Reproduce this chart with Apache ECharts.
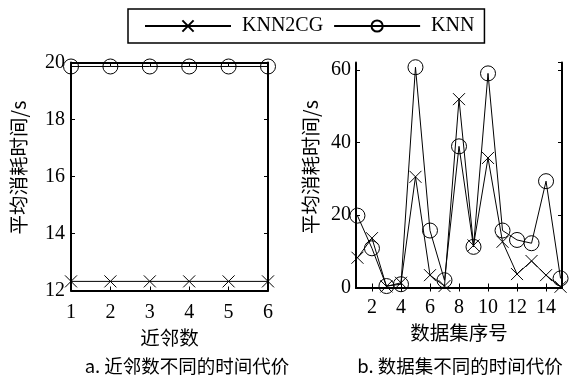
<!DOCTYPE html>
<html>
<head>
<meta charset="utf-8">
<script src="https://cdn.jsdelivr.net/npm/echarts@6/dist/echarts.min.js"></script>
<style>html,body{margin:0;padding:0;background:#fff}#c{width:574px;height:376px}</style>
</head>
<body>
<div id="c"></div>
<script>
// Left chart: neighbour count
const neighbours = [1, 2, 3, 4, 5, 6];
const leftKNN2CG = [12.32, 12.32, 12.32, 12.32, 12.32, 12.32];
const leftKNN = [19.86, 19.86, 19.86, 19.86, 19.86, 19.86];
// Right chart: dataset index
const datasets = [1, 2, 3, 4, 5, 6, 7, 8, 9, 10, 11, 12, 13, 14, 15];
const rightKNN2CG = [8.2, 13.6, 0.3, 1.3, 30.5, 3.4, 0.4, 51.9, 11.6, 35.7, 12.6, 3.7, 7.3, 3.4, 0.2];
const rightKNN = [19.8, 10.8, 0.4, 0.9, 60.7, 15.7, 2.0, 38.9, 11.2, 59.0, 15.7, 13.1, 12.2, 29.3, 2.5];
const rightXTicks = [2, 4, 6, 8, 10, 12, 14];

const serif = "'Liberation Serif', 'Times New Roman', 'Noto Sans CJK SC', serif";
const cjk = "'Noto Sans CJK SC', 'Liberation Serif', sans-serif";
const crossPath = 'path://M0,0L10,10M10,0L0,10';

const chart = echarts.init(document.getElementById('c'), null, {renderer: 'canvas'});

function axisCommon(extra) {
  return Object.assign({
    axisLine: {show: true, lineStyle: {color: '#000', width: 2}},
    axisTick: {show: true, inside: true, length: 4, lineStyle: {color: '#000', width: 1}},
    splitLine: {show: false},
    axisLabel: {color: '#000', fontFamily: serif, fontSize: 20},
  }, extra);
}

function pair(a, b) { return a.map((v, i) => [a[i], b[i]]); }

const knn2cgStyle = {
  type: 'line', symbol: crossPath, symbolSize: 12, showAllSymbol: true,
  lineStyle: {color: '#000', width: 1},
  itemStyle: {color: 'rgba(0,0,0,0)', borderColor: '#000', borderWidth: 1},
  emphasis: {disabled: true}, animation: false, z: 3
};
const knnStyle = {
  type: 'line', symbol: 'circle', symbolSize: 15, showAllSymbol: true,
  lineStyle: {color: '#000', width: 1},
  itemStyle: {color: 'rgba(0,0,0,0)', borderColor: '#000', borderWidth: 1},
  emphasis: {disabled: true}, animation: false, z: 3
};

const captionStyle = {fontFamily: cjk, fontSize: 18.5, fontWeight: 'normal', color: '#000'};
const nameStyle = {fontFamily: cjk, fontSize: 19.5, color: '#000'};

chart.setOption({
  animation: false,
  backgroundColor: '#fff',
  title: [
    {text: 'a. 近邻数不同的时间代价', left: 182, top: 352, textAlign: 'center', textStyle: captionStyle},
    {text: 'b. 数据集不同的时间代价', left: 455, top: 352, textAlign: 'center', textStyle: captionStyle}
  ],
  legend: {
    left: 128, top: 9, width: 354,
    padding: [7, 10, 7, 16],
    borderColor: '#000', borderWidth: 1.5,
    itemWidth: 86, itemHeight: 14, itemGap: 10,
    textStyle: {fontFamily: serif, fontSize: 20, color: '#000', padding: [0, 0, 0, 6]},
    data: ['KNN2CG', 'KNN']
  },
  grid: [
    {left: 71, top: 62.5, width: 197, height: 228},
    {left: 356, top: 62.5, width: 206, height: 225}
  ],
  xAxis: [
    axisCommon({gridIndex: 0, type: 'value', min: 1, max: 6, interval: 1,
      axisLabel: {color: '#000', fontFamily: serif, fontSize: 20, margin: 12},
      name: '近邻数', nameLocation: 'middle', nameGap: 36, nameTextStyle: nameStyle}),
    axisCommon({gridIndex: 0, type: 'value', min: 1, max: 6, interval: 1, position: 'top',
      axisLabel: {show: false}}),
    axisCommon({gridIndex: 1, type: 'value', min: 0.9, max: 15.1,
      axisLabel: {color: '#000', fontFamily: serif, fontSize: 20, margin: 10, customValues: rightXTicks},
      axisTick: {show: true, inside: true, length: 4, lineStyle: {color: '#000', width: 1}, customValues: rightXTicks},
      name: '数据集序号', nameLocation: 'middle', nameGap: 34, nameTextStyle: nameStyle}),
    axisCommon({gridIndex: 1, type: 'value', min: 0.9, max: 15.1, position: 'top',
      axisLabel: {show: false, customValues: rightXTicks},
      axisTick: {show: true, inside: true, length: 4, lineStyle: {color: '#000', width: 1}, customValues: rightXTicks}})
  ],
  yAxis: [
    axisCommon({gridIndex: 0, type: 'value', min: 12, max: 20, interval: 2,
      axisLabel: {color: '#000', fontFamily: serif, fontSize: 20, margin: 6},
      name: '平均消耗时间/s', nameLocation: 'middle', nameGap: 43, nameRotate: 90,
      nameTextStyle: Object.assign({padding: [0, 0, 0, 18]}, nameStyle)}),
    axisCommon({gridIndex: 0, type: 'value', min: 12, max: 20, interval: 2, position: 'right',
      axisLabel: {show: false}}),
    axisCommon({gridIndex: 1, type: 'value', min: 0, max: 62, interval: 20,
      axisLabel: {color: '#000', fontFamily: serif, fontSize: 20, margin: 5},
      name: '平均消耗时间/s', nameLocation: 'middle', nameGap: 36, nameRotate: 90,
      nameTextStyle: Object.assign({padding: [0, 0, 0, 16]}, nameStyle)}),
    axisCommon({gridIndex: 1, type: 'value', min: 0, max: 62, interval: 20, position: 'right',
      axisLabel: {show: false}})
  ],
  series: [
    Object.assign({}, knn2cgStyle, {name: 'KNN2CG', xAxisIndex: 0, yAxisIndex: 0, data: pair(neighbours, leftKNN2CG)}),
    Object.assign({}, knnStyle, {name: 'KNN', xAxisIndex: 0, yAxisIndex: 0, data: pair(neighbours, leftKNN)}),
    Object.assign({}, knn2cgStyle, {name: 'KNN2CG', xAxisIndex: 2, yAxisIndex: 2, data: pair(datasets, rightKNN2CG)}),
    Object.assign({}, knnStyle, {name: 'KNN', xAxisIndex: 2, yAxisIndex: 2, data: pair(datasets, rightKNN)})
  ]
});
</script>
</body>
</html>
